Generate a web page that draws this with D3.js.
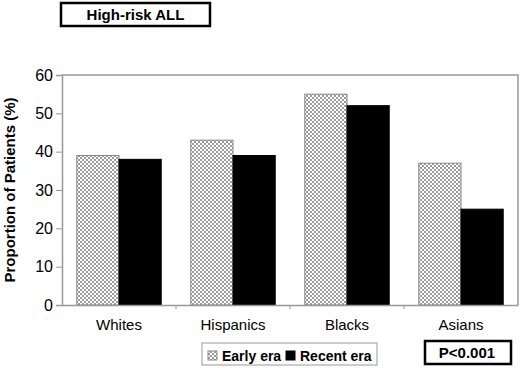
<!DOCTYPE html>
<html>
<head>
<meta charset="utf-8">
<script src="https://cdn.jsdelivr.net/npm/d3@7"></script>
<style>
  body { margin: 0; background: #fff; }
  svg { font-family: Arial, "Liberation Sans", sans-serif; }
</style>
</head>
<body>
<svg width="520" height="368"></svg>
<script>
const categories = ['Whites', 'Hispanics', 'Blacks', 'Asians'];
const seriesNames = ['Early era', 'Recent era'];
const earlyEra = [39, 43, 55, 37];
const recentEra = [38, 39, 52, 25];
const yTicks = [0, 10, 20, 30, 40, 50, 60];

const svg = d3.select('svg');
const margin = { left: 62, right: 2, top: 75, bottom: 63 };
const width = 520 - margin.left - margin.right;
const height = 368 - margin.top - margin.bottom;

// dotted fill used for the early era bars
const defs = svg.append('defs');
const pat = defs.append('pattern')
  .attr('id', 'dots')
  .attr('patternUnits', 'userSpaceOnUse')
  .attr('width', 4)
  .attr('height', 4);
pat.append('rect').attr('width', 4).attr('height', 4).attr('fill', '#fff');
pat.append('rect').attr('width', 2).attr('height', 2).attr('fill', '#9a9a9a');
pat.append('rect').attr('x', 2).attr('y', 2).attr('width', 2).attr('height', 2).attr('fill', '#9a9a9a');

const g = svg.append('g').attr('transform', `translate(${margin.left},${margin.top})`);

const x0 = d3.scaleBand().domain(categories).range([0, width]).paddingInner(0).paddingOuter(0);
const x1 = d3.scaleBand().domain(seriesNames).range([0, x0.bandwidth()]).paddingOuter(0.35).paddingInner(0);
const y = d3.scaleLinear().domain([0, 60]).range([height, 0]);

// frame (top and right)
g.append('path')
  .attr('d', `M0,0H${width}V${height}`)
  .attr('fill', 'none')
  .attr('stroke', '#999')
  .attr('stroke-width', 1.5);

const data = categories.map((c, i) => ({ cat: c, values: [earlyEra[i], recentEra[i]] }));

const groups = g.selectAll('.grp')
  .data(data)
  .join('g')
  .attr('class', 'grp')
  .attr('transform', (d) => `translate(${x0(d.cat)},0)`);

groups.selectAll('rect')
  .data((d) => d.values.map((v, i) => ({ s: seriesNames[i], v })))
  .join('rect')
  .attr('x', (d) => x1(d.s))
  .attr('y', (d) => y(d.v))
  .attr('width', x1.bandwidth())
  .attr('height', (d) => height - y(d.v))
  .attr('fill', (d) => (d.s === 'Early era' ? 'url(#dots)' : '#000'))
  .attr('stroke', (d) => (d.s === 'Early era' ? '#888' : '#000'))
  .attr('stroke-width', 1);

// y axis
const yAxis = g.append('g')
  .call(d3.axisLeft(y).tickValues(yTicks).tickSize(6).tickPadding(3));
yAxis.select('.domain').attr('stroke', '#999').attr('stroke-width', 1.5);
yAxis.selectAll('.tick line').attr('stroke', '#999');
yAxis.selectAll('text').attr('font-size', 16).attr('fill', '#000').attr('font-family', 'Arial, "Liberation Sans", sans-serif');

// x axis
const xAxis = g.append('g')
  .attr('transform', `translate(0,${height})`)
  .call(d3.axisBottom(x0).tickSize(0).tickPadding(14));
xAxis.select('.domain').attr('stroke', '#999').attr('stroke-width', 1.5);
xAxis.selectAll('text').attr('font-size', 15).attr('fill', '#000').attr('font-family', 'Arial, "Liberation Sans", sans-serif');
// small ticks between categories
xAxis.selectAll('.sep')
  .data(categories.slice(1))
  .join('line')
  .attr('class', 'sep')
  .attr('x1', (d) => x0(d)).attr('x2', (d) => x0(d))
  .attr('y1', 0).attr('y2', 4)
  .attr('stroke', '#999');

// y axis title
svg.append('text')
  .attr('transform', `translate(15,${margin.top + height / 2}) rotate(-90)`)
  .attr('text-anchor', 'middle')
  .attr('font-size', 15)
  .attr('font-weight', 'bold')
  .text('Proportion of Patients (%)');

// title box
svg.append('rect')
  .attr('x', 61).attr('y', 3).attr('width', 149).attr('height', 23)
  .attr('fill', '#fff').attr('stroke', '#000').attr('stroke-width', 2.5);
svg.append('text')
  .attr('x', 135.5).attr('y', 20)
  .attr('text-anchor', 'middle')
  .attr('font-size', 15)
  .attr('font-weight', 'bold')
  .text('High-risk ALL');

// legend
const legend = svg.append('g').attr('transform', 'translate(202,343)');
legend.append('rect')
  .attr('width', 175).attr('height', 22)
  .attr('fill', '#fff').attr('stroke', '#999').attr('stroke-width', 1);
const items = [
  { name: seriesNames[0], x: 6, fill: 'url(#dots)', stroke: '#888' },
  { name: seriesNames[1], x: 84, fill: '#000', stroke: '#000' },
];
items.forEach((it) => {
  legend.append('rect')
    .attr('x', it.x).attr('y', 8).attr('width', 9).attr('height', 9)
    .attr('fill', it.fill).attr('stroke', it.stroke);
  legend.append('text')
    .attr('x', it.x + 14).attr('y', 18)
    .attr('font-size', 14)
    .attr('font-weight', 'bold')
    .text(it.name);
});

// p-value box
svg.append('rect')
  .attr('x', 425).attr('y', 341).attr('width', 86).attr('height', 23)
  .attr('fill', '#fff').attr('stroke', '#000').attr('stroke-width', 2.5);
svg.append('text')
  .attr('x', 467).attr('y', 358)
  .attr('text-anchor', 'middle')
  .attr('font-size', 15)
  .attr('font-weight', 'bold')
  .text('P<0.001');
</script>
</body>
</html>
